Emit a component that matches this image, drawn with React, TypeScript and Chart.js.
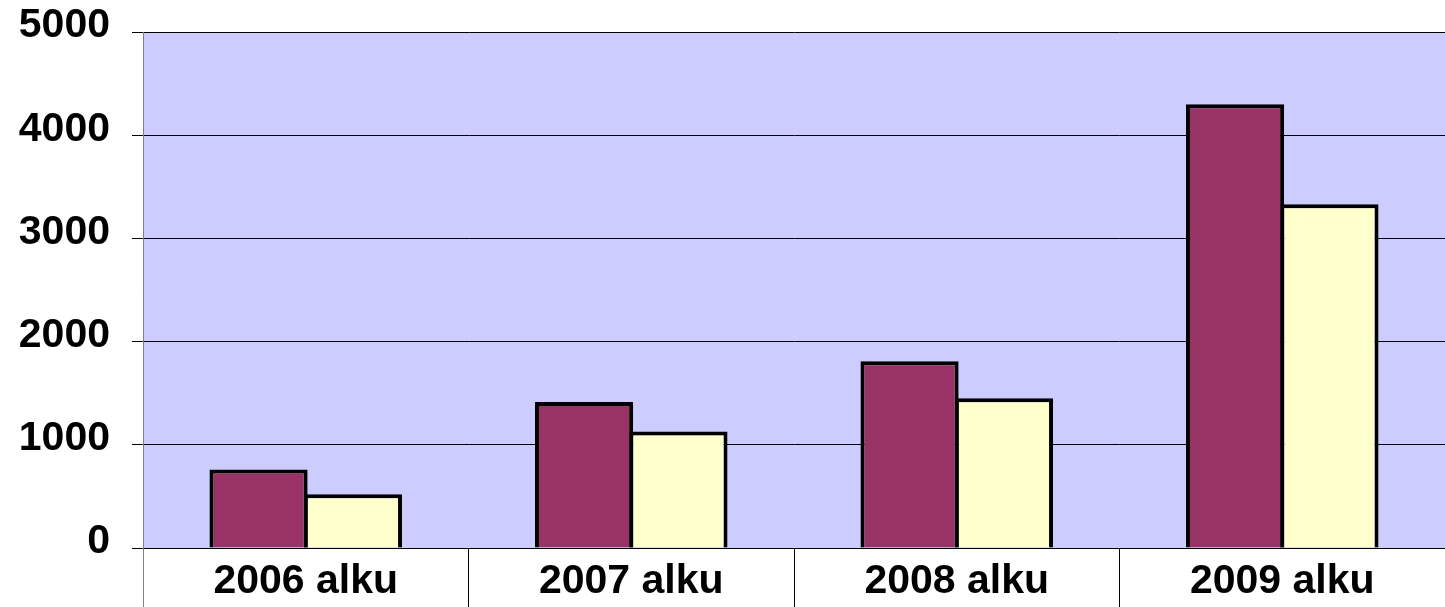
import React, { useEffect, useRef } from "react";
import { Chart, registerables } from "chart.js";

Chart.register(...registerables);

const categories = ["2006 alku", "2007 alku", "2008 alku", "2009 alku"];
const seriesA = [760, 1415, 1810, 4300];
const seriesB = [520, 1130, 1450, 3330];
const yTicks = [0, 1000, 2000, 3000, 4000, 5000];

const plotBackground = {
  id: "plotBackground",
  beforeDraw(chart: any) {
    const { ctx, chartArea } = chart;
    if (!chartArea) return;
    ctx.save();
    ctx.fillStyle = "#CCCCFF";
    ctx.fillRect(chartArea.left, chartArea.top, chartArea.right - chartArea.left, chartArea.bottom - chartArea.top);
    ctx.restore();
  },
};

export default function App() {
  const ref = useRef<HTMLCanvasElement | null>(null);

  useEffect(() => {
    if (!ref.current) return;
    const font = { family: "'Liberation Sans', Arial, sans-serif", size: 41, weight: "bold" as const };
    const chart = new Chart(ref.current, {
      type: "bar",
      data: {
        labels: categories,
        datasets: [
          {
            label: "A",
            data: seriesA,
            backgroundColor: "#993366",
            borderColor: "#000000",
            borderWidth: 4,
            borderSkipped: "bottom",
            categoryPercentage: 0.58,
            barPercentage: 1.04,
          },
          {
            label: "B",
            data: seriesB,
            backgroundColor: "#FFFFCC",
            borderColor: "#000000",
            borderWidth: 4,
            borderSkipped: "bottom",
            categoryPercentage: 0.58,
            barPercentage: 1.04,
          },
        ],
      },
      options: {
        responsive: false,
        animation: false,
        layout: { padding: { top: 32, right: 0, left: 0, bottom: 0 } },
        plugins: { legend: { display: false }, tooltip: { enabled: false } },
        scales: {
          x: {
            offset: true,
            grid: {
              offset: true,
              drawOnChartArea: false,
              drawTicks: true,
              tickLength: 59,
              color: (c: any) => (c.index === 0 ? "#808080" : "#000000"),
              lineWidth: 1,
            },
            border: { display: true, color: "#000000", width: 1 },
            ticks: { color: "#000000", font, padding: -50, maxRotation: 0, autoSkip: false },
            afterFit: (s: any) => {
              s.height = 59;
              s.paddingLeft = 0;
              s.paddingRight = 0;
            },
          },
          y: {
            min: 0,
            max: 5000,
            afterBuildTicks: (s: any) => {
              s.ticks = yTicks.map((v) => ({ value: v }));
            },
            grid: { color: "#000000", lineWidth: 1, tickLength: 11, drawTicks: true },
            border: { display: true, color: "#808080", width: 1 },
            ticks: {
              color: "#000000",
              font,
              padding: 22,
              labelOffset: -6,
              callback: (v: any) => String(v),
            },
            afterFit: (s: any) => {
              s.width = 143;
              s.paddingTop = 0;
              s.paddingBottom = 0;
            },
          },
        },
      },
      plugins: [plotBackground],
    });
    return () => chart.destroy();
  }, []);

  return (
    <div style={{ position: "fixed", left: 0, top: 0, width: 1445, height: 607, background: "#ffffff" }}>
      <canvas ref={ref} width={1445} height={607} style={{ display: "block" }} />
    </div>
  );
}
